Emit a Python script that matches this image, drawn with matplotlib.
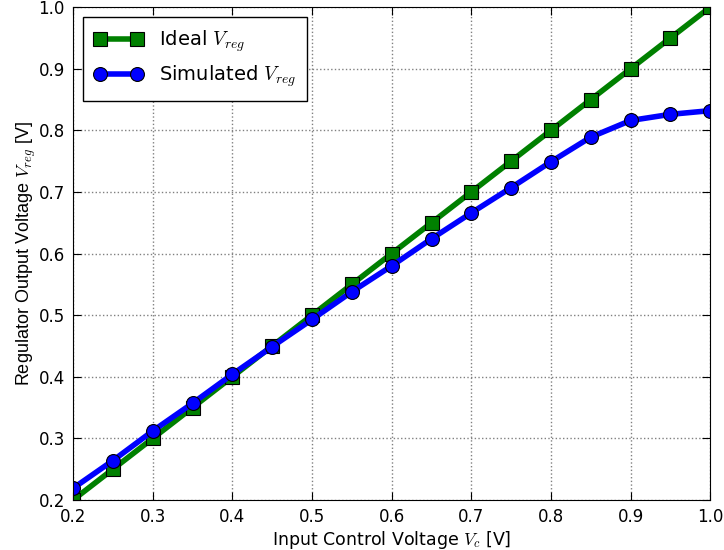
import matplotlib
matplotlib.use("Agg")
import matplotlib.pyplot as plt

# Control voltage sweep and regulator output
vc = [0.20, 0.25, 0.30, 0.35, 0.40, 0.45, 0.50, 0.55, 0.60,
      0.65, 0.70, 0.75, 0.80, 0.85, 0.90, 0.95, 1.00]
v_ideal = [0.20, 0.25, 0.30, 0.35, 0.40, 0.45, 0.50, 0.55, 0.60,
           0.65, 0.70, 0.75, 0.80, 0.85, 0.90, 0.95, 1.00]
v_sim = [0.219, 0.264, 0.312, 0.357, 0.404, 0.449, 0.493, 0.538, 0.580,
         0.624, 0.666, 0.707, 0.749, 0.789, 0.816, 0.826, 0.832]

plt.rcParams["mathtext.fontset"] = "cm"
plt.rcParams["xtick.direction"] = "in"
plt.rcParams["ytick.direction"] = "in"

fig = plt.figure(figsize=(7.24, 5.5), dpi=100)
ax = fig.add_axes([0.101, 0.091, 0.880, 0.896])

ax.plot(vc, v_ideal, color="green", linewidth=4, marker="s", markersize=10,
        markeredgecolor="black", markeredgewidth=0.8, label=r"Ideal $V_{reg}$")
ax.plot(vc, v_sim, color="blue", linewidth=4, marker="o", markersize=10,
        markeredgecolor="black", markeredgewidth=0.8, label=r"Simulated $V_{reg}$")

ax.set_xlim(0.2, 1.0)
ax.set_ylim(0.2, 1.0)
ax.set_xticks([0.2, 0.3, 0.4, 0.5, 0.6, 0.7, 0.8, 0.9, 1.0])
ax.set_yticks([0.2, 0.3, 0.4, 0.5, 0.6, 0.7, 0.8, 0.9, 1.0])
ax.tick_params(labelsize=12, length=6, top=True, right=True, pad=6)
ax.grid(True, color="gray", linestyle=":", linewidth=1)

ax.set_xlabel(r"Input Control Voltage $V_c$ [V]", fontsize=12.5, labelpad=2)
ax.set_ylabel(r"Regulator Output Voltage $V_{reg}$ [V]", fontsize=13,
              family="Liberation Sans", labelpad=0)

leg = ax.legend(loc="upper left", fontsize=14, numpoints=2, fancybox=False,
                edgecolor="black", framealpha=1, borderpad=0.6, handlelength=2.5)
leg.get_frame().set_linewidth(1)

plt.savefig("out.png", dpi=100)
plt.close()
